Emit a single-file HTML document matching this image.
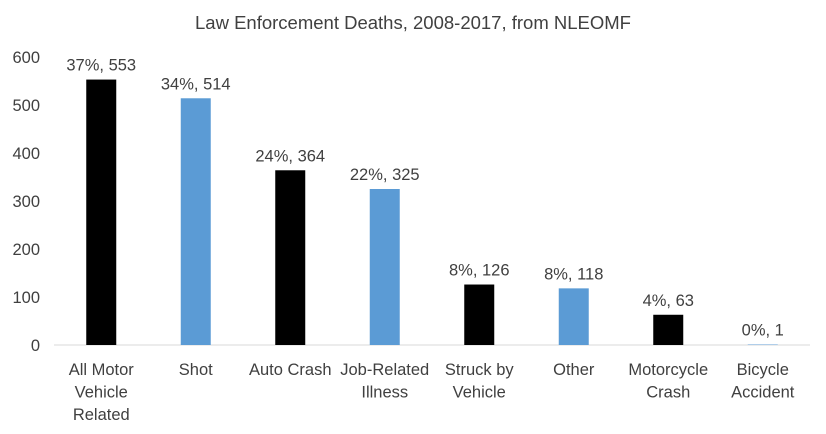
<!DOCTYPE html>
<html><head><meta charset="utf-8"><style>
body{margin:0;background:#fff;}
svg{display:block;font-family:"Liberation Sans",sans-serif;}
</style></head><body>
<svg id="chart" width="826" height="434" viewBox="0 0 826 434">
<text x="413" y="29" text-anchor="middle" font-size="18.5" fill="#404040">Law Enforcement Deaths, 2008-2017, from NLEOMF</text>
<g id="yaxis"></g><g id="bars"></g><g id="xlabels"></g>
</svg>
<script>
const categories = [["All Motor","Vehicle","Related"],["Shot"],["Auto Crash"],["Job-Related","Illness"],["Struck by","Vehicle"],["Other"],["Motorcycle","Crash"],["Bicycle","Accident"]];
const values = [553,514,364,325,126,118,63,1];
const pctLabels = ["37%","34%","24%","22%","8%","8%","4%","0%"];
const yTicks = [0,100,200,300,400,500,600];
const NS="http://www.w3.org/2000/svg";
const y0=345, yTop=57, yMax=600, xL=54, xR=810;
const y=v=>y0-(v/yMax)*(y0-yTop);
const step=(xR-xL)/categories.length;
const x=i=>xL+step*(i+0.5);
function mk(t,a,p){const e=document.createElementNS(NS,t);for(const k in a)e.setAttribute(k,a[k]);p.appendChild(e);return e;}
const ya=document.getElementById('yaxis');
yTicks.forEach(t=>{const e=mk('text',{x:40,y:y(t)+6,'text-anchor':'end','font-size':16.5,fill:'#404040'},ya);e.textContent=t;

});
const base=mk('line',{x1:xL,x2:xR,y1:y0,y2:y0,stroke:'#d9d9d9','stroke-width':1},ya);


const bg=document.getElementById('bars'), xg=document.getElementById('xlabels');
values.forEach((v,i)=>{
 const r=mk('rect',{x:x(i)-15,y:y(v),width:30,height:y0-y(v),fill:i%2?'#5b9bd5':'#000'},bg);
 
 
 const l=mk('text',{x:x(i),y:y(v)-9,'text-anchor':'middle','font-size':16.5,fill:'#404040'},bg);
 l.textContent=pctLabels[i]+', '+v;
 
 
 categories[i].forEach((s,j)=>{const t=mk('text',{x:x(i),y:375+22.5*j,'text-anchor':'middle','font-size':16.5,fill:'#404040'},xg);t.textContent=s;
 
 });
});
</script>
</body></html>
